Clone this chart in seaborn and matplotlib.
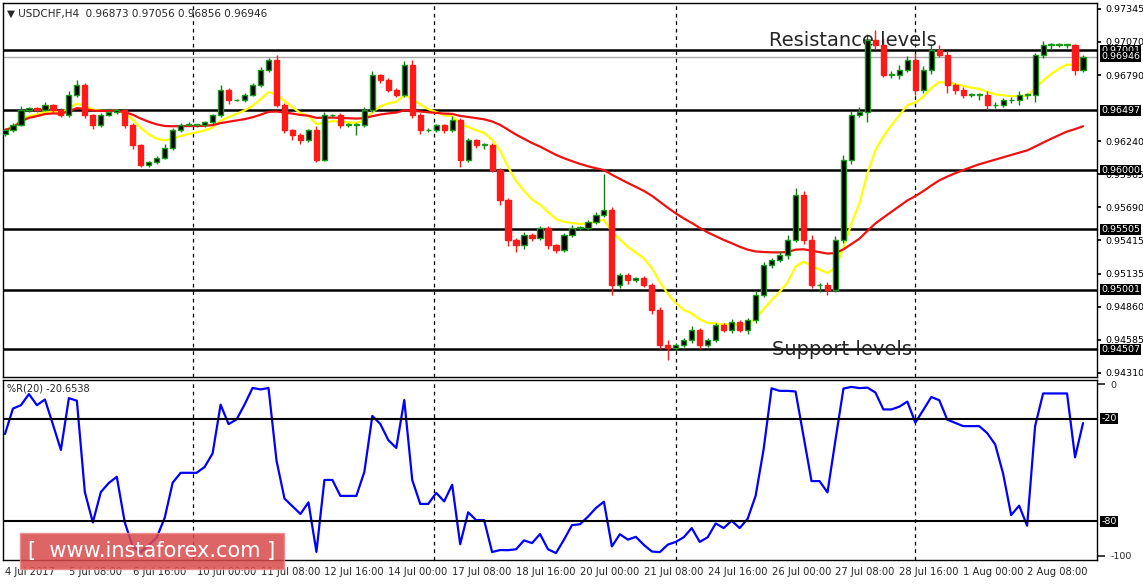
import numpy as np
import pandas as pd
import matplotlib
matplotlib.use("Agg")
import matplotlib.pyplot as plt
import seaborn as sns

closes = [0.96334,0.96376,0.96501,0.96517,0.96501,0.96542,0.96501,0.96459,0.96626,0.96709,
0.96459,0.96376,0.96459,0.96484,0.96501,0.96376,0.96209,0.96042,0.96067,0.96100,
0.96184,0.96334,0.96376,0.96376,0.96376,0.96401,0.96459,0.96667,0.96584,0.96584,
0.96626,0.96709,0.96834,0.96918,0.96542,0.96334,0.96292,0.96250,0.96334,0.96084,
0.96459,0.96459,0.96376,0.96376,0.96376,0.96501,0.96793,0.96751,0.96667,0.96626,
0.96876,0.96459,0.96334,0.96334,0.96376,0.96334,0.96417,0.96084,0.96250,0.96209,
0.96209,0.96000,0.95750,0.95417,0.95375,0.95458,0.95433,0.95517,0.95375,0.95333,
0.95458,0.95517,0.95517,0.95567,0.95625,0.95667,0.95041,0.95125,0.95083,0.95100,
0.95041,0.94833,0.94541,0.94516,0.94541,0.94583,0.94666,0.94541,0.94583,0.94708,
0.94666,0.94733,0.94666,0.94750,0.94958,0.95208,0.95250,0.95291,0.95417,0.95792,
0.95417,0.95041,0.95041,0.95000,0.95417,0.96084,0.96459,0.96484,0.97084,0.97043,
0.96793,0.96793,0.96834,0.96918,0.96667,0.96834,0.97001,0.96959,0.96709,0.96667,
0.96626,0.96626,0.96626,0.96542,0.96542,0.96584,0.96584,0.96626,0.96626,0.96959,
0.97043,0.97043,0.97043,0.97043,0.96834,0.96946]
first_open = 0.96300
# wick extensions in units of 0.00001
upper_wick = [20,15,30,10,12,25,10,15,30,45,20,10,15,12,10,10,15,12,10,15,
30,20,15,25,10,12,10,40,15,10,20,15,25,20,40,20,10,15,12,30,
25,10,15,20,20,25,35,10,15,20,30,40,20,15,10,12,30,15,20,10,
15,15,20,15,20,25,15,20,15,10,20,25,15,20,25,300,25,20,15,10,
15,20,25,40,15,20,30,20,15,20,15,25,15,20,30,25,20,35,40,60,
30,40,20,25,35,40,30,45,50,80,60,30,40,35,60,30,50,40,35,20,
25,15,20,30,25,20,25,30,20,20,30,20,15,10,10,10]
lower_wick = [15,20,10,15,20,10,15,20,15,20,25,30,15,10,15,25,30,15,20,15,
10,15,20,10,15,15,20,15,30,10,15,10,20,15,20,25,40,30,15,20,
10,20,25,15,80,15,20,25,15,20,20,25,30,15,20,25,15,60,20,25,
30,20,40,50,60,30,25,20,30,25,20,20,15,20,15,20,80,25,30,20,
20,30,30,100,15,20,25,30,20,15,20,25,20,30,25,20,25,20,30,20,
30,25,60,40,20,25,30,20,80,30,20,25,30,20,40,25,30,20,70,30,
25,20,40,30,25,20,25,40,30,60,25,30,20,25,40,20]
levels = [0.97001, 0.96497, 0.96000, 0.95505, 0.95001, 0.94507]
price_ticks = [0.97345, 0.97070, 0.96790, 0.96240, 0.95965, 0.95690, 0.95415, 0.95135, 0.94860, 0.94585, 0.94310]
tick_labels = ["4 Jul 2017","5 Jul 08:00","6 Jul 16:00","10 Jul 00:00","11 Jul 08:00","12 Jul 16:00",
"14 Jul 00:00","17 Jul 08:00","18 Jul 16:00","20 Jul 00:00","21 Jul 08:00","24 Jul 16:00",
"26 Jul 00:00","27 Jul 08:00","28 Jul 16:00","1 Aug 00:00","2 Aug 08:00"]
day_separators = [23.5, 53.75, 84, 114]

n = len(closes)
idx = np.arange(n)
c = np.array(closes)
o = np.concatenate([[first_open], c[:-1]])
h = np.maximum(o, c) + np.array(upper_wick[:n]) * 1e-5
l = np.minimum(o, c) - np.array(lower_wick[:n]) * 1e-5
df = pd.DataFrame({"i": idx, "o": o, "c": c, "h": h, "l": l})
df["fast"] = df["c"].ewm(span=10, adjust=True).mean()
df["slow"] = df["c"].ewm(span=50, adjust=True).mean()
hh = df["h"].rolling(20, min_periods=1).max()
ll = df["l"].rolling(20, min_periods=1).min()
df["wr"] = (hh - df["c"]) / (hh - ll) * -100

sns.set_theme(style="white")
plt.rcParams['font.family'] = ['DejaVu Sans']
fig = plt.figure(figsize=(11.43, 5.85), dpi=100)
W, H = 1143, 585
FS = 6.8
ax = fig.add_axes([3/W, 1-377/H, 1094/W, 374/H])
ax2 = fig.add_axes([3/W, 1-560/H, 1094/W, 180/H])
for a in (ax, ax2):
    a.set_xlim(-0.25, 136.75)
    for s in a.spines.values():
        s.set_color("black"); s.set_linewidth(1)
    for d in day_separators:
        a.axvline(d, color="black", ls=(0, (3, 3)), lw=0.9)

ymax, ymin = 0.97393, 0.94274
ax.set_ylim(ymin, ymax)
up = df["c"] >= df["o"]
ax.vlines(df["i"][up], df["l"][up], df["h"][up], color="#1a7a1a", lw=1, zorder=3)
ax.vlines(df["i"][~up], df["l"][~up], df["h"][~up], color="#ff1a1a", lw=1, zorder=3)
ax.bar(df["i"][up], (df["c"]-df["o"])[up].clip(lower=4e-5), bottom=df["o"][up], width=0.65,
       color="black", edgecolor="#1a9a1a", lw=1, zorder=4)
ax.bar(df["i"][~up], (df["o"]-df["c"])[~up].clip(lower=4e-5), bottom=df["c"][~up], width=0.65,
       color="#ff1a1a", edgecolor="#ff1a1a", lw=1, zorder=4)
sns.lineplot(data=df, x="i", y="fast", ax=ax, color="#ffff00", lw=1.6, zorder=2)
sns.lineplot(data=df, x="i", y="slow", ax=ax, color="#ee1111", lw=1.6, zorder=2)
for lv in levels:
    ax.axhline(lv, color="black", lw=1.8, zorder=1)
ax.axhline(closes[-1], color="#aaaaaa", lw=1, zorder=1)

ax.yaxis.tick_right()
ax.set_yticks(price_ticks)
ax.set_yticklabels([f"{t:.5f}" for t in price_ticks], fontsize=FS)
ax.tick_params(axis="y", length=3, pad=3, colors="black")
trans = ax.get_yaxis_transform()
for lv in levels + [closes[-1]]:
    ax.text(1.004, lv, f"{lv:.5f}", transform=trans, fontsize=FS, color="white", va="center",
            ha="left", bbox=dict(boxstyle="square,pad=0.1", fc="black", ec="none"), zorder=10, clip_on=False)
ax.set_xticks([])
ax.set_xlabel(""); ax.set_ylabel("")
ax.text(0.004, 0.985, "▼ USDCHF,H4  0.96873 0.97056 0.96856 0.96946", transform=ax.transAxes,
        fontsize=7.5, va="top", ha="left")
ax.text(95.7, 0.97001, "Resistance levels", fontsize=14, va="bottom", ha="left")
ax.text(96.1, 0.94507, "Support levels", fontsize=14, va="center", ha="left")

sns.lineplot(data=df, x="i", y="wr", ax=ax2, color="#0000ff", lw=1.6)
ax2.set_ylim(-102.5, 2.5)
ax2.axhline(-20, color="black", lw=1.5)
ax2.axhline(-80, color="black", lw=1.5)
ax2.yaxis.tick_right()
ax2.set_yticks([0, -100]); ax2.set_yticklabels(["0", "-100"], fontsize=FS)
t2 = ax2.get_yaxis_transform()
for lv in (-20, -80):
    ax2.text(1.004, lv, str(lv), transform=t2, fontsize=FS, color="white", va="center",
             bbox=dict(boxstyle="square,pad=0.1", fc="black", ec="none"), clip_on=False)
ax2.text(0.004, 0.98, "%R(20) -20.6538", transform=ax2.transAxes, fontsize=7, va="top")
ax2.set_xticks(np.arange(0, n, 8))
ax2.set_xticklabels(tick_labels, fontsize=7.2, ha="left")
ax2.tick_params(axis="x", length=3, pad=2)
ax2.set_xlabel(""); ax2.set_ylabel("")
fig.text(28/W, 1-551/H, "[  www.instaforex.com ]", fontsize=15, color="white", va="center", ha="left",
         bbox=dict(boxstyle="square,pad=0.4", fc="#d94a4a", ec="#e88", alpha=0.85))
fig.savefig("out.png", dpi=100)
